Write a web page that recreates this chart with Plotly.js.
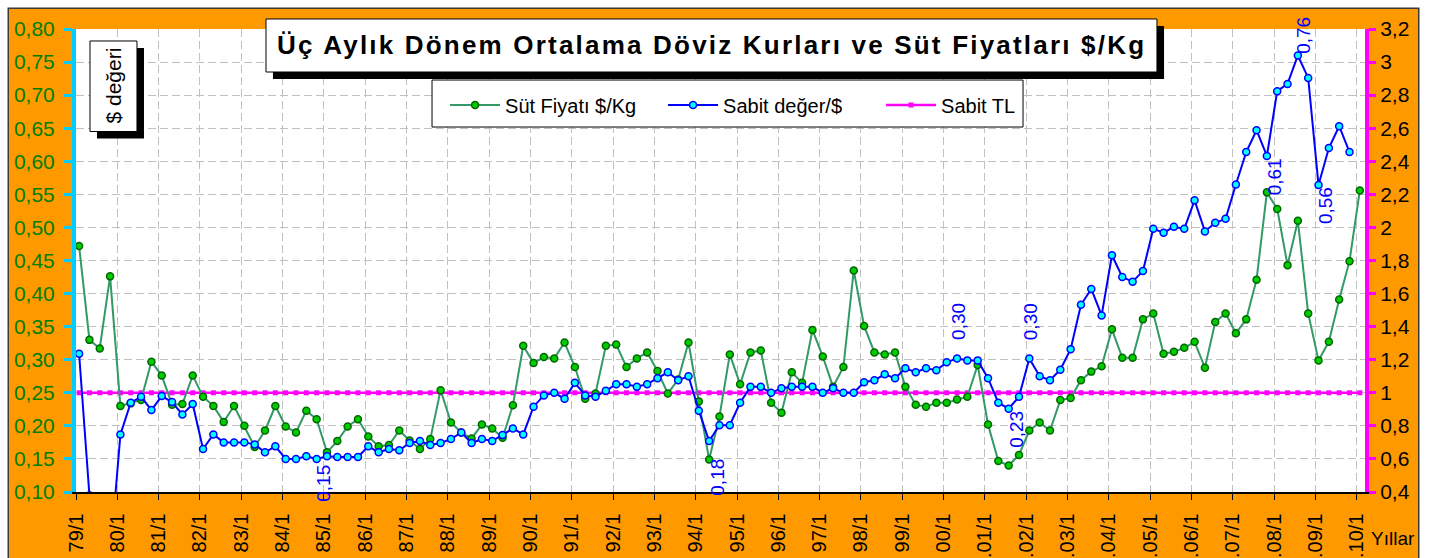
<!DOCTYPE html>
<html><head><meta charset="utf-8">
<script src="https://cdn.plot.ly/plotly-3.0.1.min.js"></script>
<style>
html,body{margin:0;padding:0;background:#fff;width:1430px;height:558px;overflow:hidden}
#chart{position:absolute;left:9px;top:9px;width:1409px;height:549px;box-shadow:0 0 0 1.5px #3a3a3a}
.annotation[data-index="0"] .annotation-text{letter-spacing:2.2px}
</style></head>
<body><div id="chart"></div>
<script>
// quarterly categories 79/1 ... 10/1 (125 quarters)
const yearLabels = ["79/1","80/1","81/1","82/1","83/1","84/1","85/1","86/1","87/1","88/1","89/1",
  "90/1","91/1","92/1","93/1","94/1","95/1","96/1","97/1","98/1","99/1",
  "00/1",".01/1",".02/1",".03/1",".04/1",".05/1",".06/1",".07/1",".08/1",".09/1",".10/1"];

// Süt Fiyatı $/Kg (left axis)
const sutFiyati = [
 0.472,0.330,0.317,0.426,0.230,0.234,0.239,0.297,0.276,0.232,
 0.233,0.276,0.244,0.230,0.206,0.230,0.200,0.168,0.193,0.230,
 0.199,0.190,0.223,0.210,0.160,0.177,0.199,0.210,0.184,0.169,
 0.171,0.193,0.178,0.165,0.180,0.254,0.205,0.190,0.181,0.202,
 0.196,0.182,0.231,0.321,0.295,0.304,0.302,0.326,0.289,0.241,
 0.249,0.321,0.323,0.289,0.302,0.311,0.283,0.249,0.270,0.326,
 0.237,0.149,0.214,0.308,0.263,0.311,0.314,0.235,0.220,0.281,
 0.265,0.345,0.305,0.259,0.289,0.435,0.351,0.311,0.308,0.311,
 0.259,0.232,0.229,0.235,0.235,0.240,0.244,0.292,0.202,0.147,
 0.140,0.156,0.193,0.205,0.193,0.239,0.242,0.269,0.282,0.290,
 0.346,0.303,0.303,0.361,0.370,0.309,0.312,0.318,0.327,0.288,
 0.357,0.370,0.340,0.361,0.421,0.553,0.528,0.443,0.510,0.370,
 0.299,0.327,0.391,0.449,0.556];

// Sabit değer/$ (left axis)
const sabitDeger = [
 0.309,0.095,0,0,0.187,0.235,0.244,0.224,0.245,0.236,
 0.217,0.233,0.165,0.187,0.175,0.175,0.175,0.172,0.160,0.169,
 0.150,0.150,0.154,0.150,0.154,0.153,0.153,0.153,0.169,0.160,
 0.165,0.163,0.174,0.177,0.171,0.174,0.180,0.190,0.174,0.180,
 0.177,0.186,0.196,0.187,0.229,0.246,0.250,0.241,0.265,0.246,
 0.244,0.253,0.263,0.263,0.259,0.263,0.272,0.281,0.269,0.275,
 0.223,0.177,0.201,0.201,0.235,0.259,0.259,0.250,0.257,0.259,
 0.259,0.259,0.250,0.257,0.250,0.250,0.266,0.269,0.278,0.272,
 0.287,0.281,0.287,0.284,0.296,0.302,0.299,0.299,0.272,0.235,
 0.226,0.244,0.302,0.275,0.269,0.285,0.316,0.383,0.407,0.367,
 0.458,0.425,0.418,0.434,0.498,0.492,0.501,0.498,0.541,0.494,
 0.507,0.513,0.565,0.614,0.647,0.608,0.706,0.717,0.760,0.726,
 0.564,0.620,0.653,0.614,null];

// Sabit TL (right axis)
const sabitTL = [
 1,1,1,1,1,1,1,1,1,1, 1,1,1,1,1,1,1,1,1,1, 1,1,1,1,1,1,1,1,1,1,
 1,1,1,1,1,1,1,1,1,1, 1,1,1,1,1,1,1,1,1,1, 1,1,1,1,1,1,1,1,1,1,
 1,1,1,1,1,1,1,1,1,1, 1,1,1,1,1,1,1,1,1,1, 1,1,1,1,1,1,1,1,1,1,
 1,1,1,1,1,1,1,1,1,1, 1,1,1,1,1,1,1,1,1,1, 1,1,1,1,1,1,1,1,1,1,
 1,1,1,1,1];

const leftTicks = [0.10,0.15,0.20,0.25,0.30,0.35,0.40,0.45,0.50,0.55,0.60,0.65,0.70,0.75,0.80];
const leftLabels = ["0,10","0,15","0,20","0,25","0,30","0,35","0,40","0,45","0,50","0,55","0,60","0,65","0,70","0,75","0,80"];
const rightTicks = [0.4,0.6,0.8,1,1.2,1.4,1.6,1.8,2,2.2,2.4,2.6,2.8,3,3.2];
const rightLabels = ["0,4","0,6","0,8","1","1,2","1,4","1,6","1,8","2","2,2","2,4","2,6","2,8","3","3,2"];

// labelled points of "Sabit değer/$"
const labelPts = [
 {i:24, anchor:'top', xs:-3, ys:-6},
 {i:61, anchor:'top', xs:8, ys:-16},
 {i:85, anchor:'bottom', xs:2, ys:16},
 {i:90, anchor:'top', xs:7, ys:0},
 {i:92, anchor:'bottom', xs:2, ys:16},
 {i:115, anchor:'top', xs:8, ys:0},
 {i:118, anchor:'bottom', xs:6, ys:0},
 {i:120, anchor:'top', xs:7, ys:0}
];

const idx = sutFiyati.map((_, k) => k);
const tickPos = yearLabels.map((_, k) => 4 * k - 0.3);
const FONT = 'Liberation Sans, Arial, sans-serif';

const traces = [
 {x: idx, y: sabitTL, yaxis: 'y', name: 'Sabit TL', mode: 'lines+markers', legendrank: 3,
  line: {color: '#FF00FF', width: 2.5}, marker: {symbol: 'square', size: 5, color: '#FF00FF'}},
 {x: idx, y: sutFiyati, yaxis: 'y2', name: 'Süt Fiyatı $/Kg', mode: 'lines+markers', legendrank: 1,
  line: {color: '#339966', width: 2}, marker: {size: 7, color: '#00CC00', line: {color: '#006600', width: 1.5}}},
 {x: idx, y: sabitDeger, yaxis: 'y2', name: 'Sabit değer/$', mode: 'lines+markers', legendrank: 2,
  line: {color: '#0000FF', width: 2}, marker: {size: 7, color: '#00FFFF', line: {color: '#0000FF', width: 1.5}}}
];

const annotations = [
 {xref:'paper', yref:'paper', x:0.4930, y:0.9644, xanchor:'center', yanchor:'middle', showarrow:false,
  text:'<b>Üç Aylık Dönem Ortalama Döviz Kurları ve Süt Fiyatları $/Kg</b>', font:{family:FONT, size:26, color:'#000'}},
 {xref:'paper', yref:'paper', x:0.0291, y:0.8769, xanchor:'center', yanchor:'middle', showarrow:false, textangle:-90,
  text:'$ değeri', font:{family:FONT, size:21, color:'#000'}},
 {xref:'paper', yref:'paper', x:1.0217, y:-0.1015, xanchor:'center', yanchor:'middle', showarrow:false,
  text:'Yıllar', font:{family:FONT, size:19, color:'#000'}}
];
labelPts.forEach(p => {
  annotations.push({xref:'x', yref:'y2', x:p.i, y:sabitDeger[p.i], showarrow:false, textangle:-90,
    xanchor:'center', yanchor:p.anchor, xshift:p.xs, yshift:p.ys,
    text: sabitDeger[p.i].toFixed(2).replace('.', ','), font:{family:FONT, size:19, color:'#0000FF'}});
});

const shapes = [
 // title box + shadow
 {type:'rect', xref:'paper', yref:'paper', x0:0.1528, x1:0.8441, y0:0.8920, y1:1.0065, fillcolor:'#000', line:{width:0}, layer:'above'},
 {type:'rect', xref:'paper', yref:'paper', x0:0.1474, x1:0.8386, y0:0.9071, y1:1.0216, fillcolor:'#fff', line:{color:'#000', width:1}, layer:'above'},
 // "$ değeri" box + shadow
 {type:'rect', xref:'paper', yref:'paper', x0:0.01629, x1:0.05275, y0:0.7635, y1:0.9590, fillcolor:'#000', line:{width:0}, layer:'above'},
 {type:'rect', xref:'paper', yref:'paper', x0:0.01086, x1:0.0473, y0:0.7786, y1:0.9741, fillcolor:'#fff', line:{color:'#000', width:1}, layer:'above'},
 // legend frame
 {type:'rect', xref:'paper', yref:'paper', x0:0.2762, x1:0.7347, y0:0.7883, y1:0.8898, fillcolor:'#fff', line:{color:'#000', width:1}, layer:'above'}
];

const layout = {
  width: 1409, height: 549,
  margin: {l:67, r:53, t:20, b:66, pad:0},
  paper_bgcolor: '#FF9900', plot_bgcolor: '#FFFFFF',
  separators: ',.',
  font: {family: FONT, color: '#000'},
  showlegend: true,
  legend: {orientation:'h', x:0.2863, y:0.878, xanchor:'left', yanchor:'top', bgcolor:'rgba(0,0,0,0)',
    borderwidth:0, itemwidth:50, entrywidth:153, font:{family:FONT, size:20, color:'#000'}},
  xaxis: {range:[-0.3, 124.5], tickmode:'array', tickvals: tickPos, ticktext: yearLabels, tickangle:-90,
    tickfont:{family:FONT, size:20, color:'#000'}, ticks:'outside', ticklen:6, tickcolor:'#000', tickwidth:1,
    ticklabelstandoff:6,
    showline:true, linecolor:'#000', linewidth:1.5, showgrid:true, gridcolor:'#C0C0C0', gridwidth:1,
    griddash:'8px,4px', zeroline:false, fixedrange:true},
  yaxis: {side:'right', range:[0.4, 3.2], tickmode:'array', tickvals: rightTicks, ticktext: rightLabels,
    tickfont:{family:FONT, size:21, color:'#000'}, ticks:'outside', ticklen:7, tickwidth:3, tickcolor:'#FF00FF',
    showline:true, linecolor:'#FF00FF', linewidth:4, showgrid:true, gridcolor:'#C0C0C0', gridwidth:1,
    griddash:'8px,4px', zeroline:false},
  yaxis2: {overlaying:'y', side:'left', range:[0.1, 0.8], tickmode:'array', tickvals: leftTicks, ticktext: leftLabels,
    tickfont:{family:FONT, size:21, color:'#008000'}, ticks:'outside', ticklen:8, tickwidth:3, tickcolor:'#00CCFF',
    ticklabelstandoff:5,
    showline:true, linecolor:'#00CCFF', linewidth:4, showgrid:false, zeroline:false},
  annotations: annotations,
  shapes: shapes
};

Plotly.newPlot('chart', traces, layout, {displayModeBar:false, staticPlot:true});
</script></body></html>
